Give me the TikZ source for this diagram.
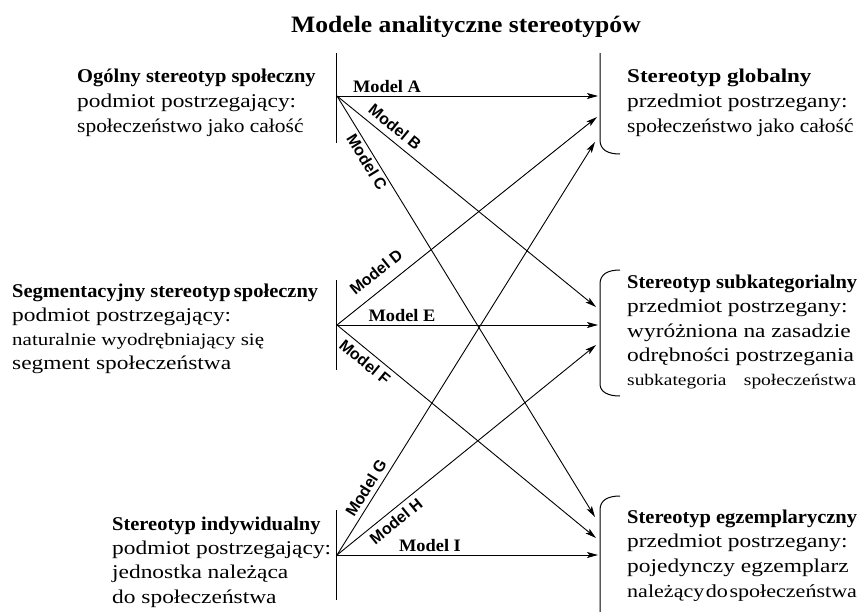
\documentclass[tikz,border=0pt]{standalone}
\usepackage{fontspec}
\usetikzlibrary{arrows.meta}
\setmainfont{Liberation Serif}
\newfontfamily\rgf{Liberation Serif}[FakeStretch=1.2]
\newfontfamily\rgn{Liberation Serif}[FakeStretch=1.1]
\newfontfamily\bdf{Liberation Serif}[FakeStretch=1.05]
\newfontfamily\bdw{Liberation Serif}[FakeStretch=1.18]
\newfontfamily\ttlf{Liberation Serif}[FakeStretch=1.09]
\newfontfamily\lbf{Liberation Sans}
\tikzset{
  body/.style={anchor=base west, inner sep=0pt, font=\rgf\fontsize{19.5}{24}\selectfont},
  bodyn/.style={anchor=base west, inner sep=0pt, font=\rgn\fontsize{19.5}{24}\selectfont},
  bodysm/.style={anchor=base west, inner sep=0pt, font=\rgf\fontsize{17.5}{24}\selectfont},
  bodyxs/.style={anchor=base west, inner sep=0pt, font=\rgf\fontsize{16.2}{24}\selectfont},
  head/.style={anchor=base west, inner sep=0pt, font=\bdf\bfseries\fontsize{19.5}{24}\selectfont},
  headw/.style={anchor=base west, inner sep=0pt, font=\bdw\bfseries\fontsize{19.5}{24}\selectfont},
  mlab/.style={inner sep=0pt, font=\lbf\bfseries\fontsize{16}{19}\selectfont},
  slab/.style={anchor=base, inner sep=0pt, font=\bdf\bfseries\fontsize{17.5}{20}\selectfont},
  conn/.style={line width=0.9pt, -{Stealth[length=11pt,width=6pt,inset=2.5pt]}},
  bar/.style={line width=1pt},
}
\begin{document}
\begin{tikzpicture}[x=1pt,y=-1pt]
\useasboundingbox (0,0) rectangle (859,611);
% title
\node[anchor=base, inner sep=0pt, font=\ttlf\bfseries\fontsize{23.5}{28}\selectfont] (title) at (466,32) {Modele analityczne stereotypów};

% left bars
\draw[bar] (336,53) -- (336,143);
\draw[bar] (336,280) -- (336,370);
\draw[bar] (336,510) -- (336,600);
% right brackets
\draw[bar] (600,53) -- (600,140) .. controls (600,150) and (608,154) .. (620,154);
\draw[bar] (620,270) .. controls (608,270) and (600,274) .. (600,284) -- (600,384) .. controls (600,392) and (608,396) .. (620,396);
\draw[bar] (620,496) .. controls (608,496) and (600,500) .. (600,510) -- (600,612);

% origins and targets
\coordinate (o1) at (337,96);
\coordinate (o2) at (337,325);
\coordinate (o3) at (337,555);
\coordinate (tA) at (598,96);
\coordinate (tD) at (597,117);
\coordinate (tG) at (595,142);
\coordinate (tB) at (596,307);
\coordinate (tE) at (598,325);
\coordinate (tH) at (596,345);
\coordinate (tC) at (595,517);
\coordinate (tF) at (596,538);
\coordinate (tI) at (598,555);

\draw[conn] (o1) -- (tA);
\draw[conn] (o1) -- (tB);
\draw[conn] (o1) -- (tC);
\draw[conn] (o2) -- (tD);
\draw[conn] (o2) -- (tE);
\draw[conn] (o2) -- (tF);
\draw[conn] (o3) -- (tG);
\draw[conn] (o3) -- (tH);
\draw[conn] (o3) -- (tI);

% model labels
\node[slab] (lA) at (387,92) {Model A};
\node[mlab, rotate=-39.2] (lB) at (395,127) {Model B};
\node[mlab, rotate=-58.5] (lC) at (367,162) {Model C};
\node[mlab, rotate=38.7] (lD) at (376,272) {Model D};
\node[slab] (lE) at (402,321) {Model E};
\node[mlab, rotate=-39.5] (lF) at (365,362) {Model F};
\node[mlab, rotate=58.2] (lG) at (366,488) {Model G};
\node[mlab, rotate=39.1] (lH) at (396,521) {Model H};
\node[slab] (lI) at (430,551) {Model I};

% left block 1
\node[head] (l1a) at (77,82) {Ogólny stereotyp społeczny};
\node[body] (l1b) at (77,107) {podmiot postrzegający:};
\node[bodyn] (l1c) at (77,132) {społeczeństwo jako całość};
% left block 2
\node[head] (l2a) at (12,297) {Segmentacyjny stereotyp\,społeczny};
\node[body] (l2b) at (12,321) {podmiot postrzegający:};
\node[bodysm] (l2c) at (12,345) {naturalnie wyodrębniający się};
\node[body] (l2d) at (12,369) {segment społeczeństwa};
% left block 3
\node[head] (l3a) at (112,530) {Stereotyp indywidualny};
\node[body] (l3b) at (112,554) {podmiot postrzegający:};
\node[body] (l3c) at (112,578) {jednostka należąca};
\node[body] (l3d) at (112,603) {do społeczeństwa};

% right block 1
\node[headw] (r1a) at (627,82) {Stereotyp globalny};
\node[body] (r1b) at (627,107) {przedmiot postrzegany:};
\node[bodyn] (r1c) at (627,132) {społeczeństwo jako całość};
% right block 2
\node[head] (r2a) at (627,288) {Stereotyp subkategorialny};
\node[body] (r2b) at (627,312.5) {przedmiot postrzegany:};
\node[body] (r2c) at (627,337) {wyróżniona na zasadzie};
\node[body] (r2d) at (627,361) {odrębności postrzegania};
\node[bodyxs] (r2e) at (627,385) {\makebox[229pt][s]{subkategoria\hspace{8pt plus 40pt}społeczeństwa}};
% right block 3
\node[head] (r3a) at (627,523) {Stereotyp egzemplaryczny};
\node[body] (r3b) at (627,547) {przedmiot postrzegany:};
\node[body] (r3c) at (627,572) {pojedynczy egzemplarz};
\node[anchor=base west, inner sep=0pt, font=\rgf\fontsize{18.4}{24}\selectfont] (r3d) at (627,597) {należący\hspace{1.5pt}do\hspace{1.5pt}społeczeństwa};
\end{tikzpicture}
\end{document}
